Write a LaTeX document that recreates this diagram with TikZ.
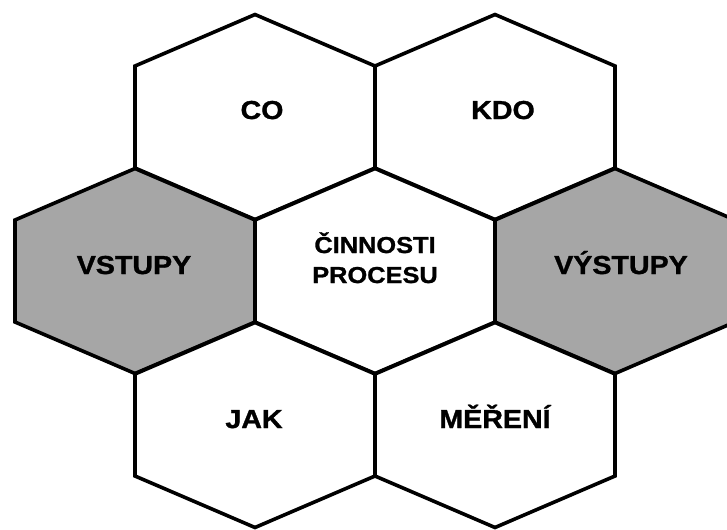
\documentclass[tikz,border=0pt]{standalone}
\usepackage{fontspec}
\newfontfamily\hexfont{Liberation Sans}[FakeStretch=1.1, BoldFeatures={FakeBold=1.2}]
\definecolor{hexgray}{HTML}{A6A6A6}
\newcommand\hexcellpath[2]{(#1,#2-102.5) -- (#1+120,#2-51) -- (#1+120,#2+51) -- (#1,#2+102.5) -- (#1-120,#2+51) -- (#1-120,#2-51) -- cycle}
\tikzset{
  hexcell/.style={draw=black, line width=2.7pt, line join=miter},
  graycell/.style={hexcell, fill=hexgray},
  whitecell/.style={hexcell, fill=white},
  lbl/.style={font=\hexfont\bfseries\fontsize{19.5}{23}\selectfont, anchor=base, inner sep=0pt, text=black},
  lblsmall/.style={font=\hexfont\bfseries\fontsize{17.3}{22.5}\selectfont, anchor=base, inner sep=0pt, text=black},
}
\begin{document}
\begin{tikzpicture}[x=0.75pt,y=-0.75pt]
\useasboundingbox (0,0) rectangle (727,529);
\fill[white] (0,0) rectangle (727,529);
\clip (0,0) rectangle (727,529);
% cells
\path[whitecell] \hexcellpath{255}{117};
\path[whitecell] \hexcellpath{495}{117};
\path[graycell]  \hexcellpath{135}{271};
\path[whitecell] \hexcellpath{375}{271};
\path[graycell]  \hexcellpath{615}{271};
\path[whitecell] \hexcellpath{255}{425};
\path[whitecell] \hexcellpath{495}{425};
% labels
\node[lbl] (co) at (262,119) {CO};
\node[lbl] (kdo) at (503,119) {KDO};
\node[lbl] (vstupy) at (134,274) {VSTUPY};
\node[lblsmall] (cinnosti) at (375,253) {ČINNOSTI};
\node[lblsmall] (procesu) at (375,283) {PROCESU};
\node[lbl] (vystupy) at (621,274) {VÝSTUPY};
\node[lbl] (jak) at (254,428) {JAK};
\node[lbl] (mereni) at (495,428) {MĚŘENÍ};
\end{tikzpicture}
\end{document}
